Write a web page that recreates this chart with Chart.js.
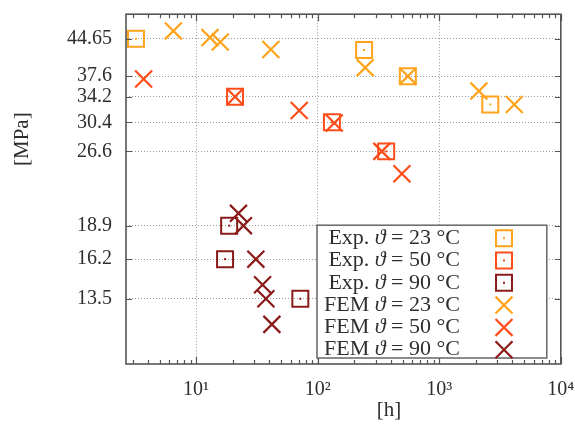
<!DOCTYPE html>
<html>
<head>
<meta charset="utf-8">
<script src="https://cdn.jsdelivr.net/npm/chart.js@4.4.1/dist/chart.umd.min.js"></script>
<style>
  html, body { margin: 0; padding: 0; background: #fff; }
</style>
</head>
<body>
<canvas id="chart" width="575" height="434"></canvas>
<script>
// time to failure [h] and stress [MPa]
const exp23Hours = [3.2, 241, 552, 2630];
const exp23Stress = [44.65, 42.4, 37.6, 33.0];
const exp50Hours = [20.9, 131, 366];
const exp50Stress = [34.2, 30.4, 26.6];
const exp90Hours = [18.7, 17.3, 72];
const exp90Stress = [18.9, 16.2, 13.5];

const fem23Hours = [6.5, 13.0, 15.8, 41.2, 246, 552, 2120, 4140];
const fem23Stress = [46.3, 44.9, 44.0, 42.5, 39.1, 37.6, 35.1, 33.0];
const fem50Hours = [3.7, 20.9, 70.5, 137, 337, 493];
const fem50Stress = [37.1, 34.2, 32.1, 30.3, 26.6, 24.0];
const fem90Hours = [22.3, 24.5, 31.0, 35.2, 37.5, 42.0];
const fem90Stress = [20.0, 18.9, 16.2, 14.4, 13.5, 12.0];

const seriesLabels = [
    "Exp. ϑ = 23 °C", "Exp. ϑ = 50 °C", "Exp. ϑ = 90 °C",
    "FEM ϑ = 23 °C", "FEM ϑ = 50 °C", "FEM ϑ = 90 °C"
];

const yTickValues = [13.5, 16.2, 18.9, 26.6, 30.4, 34.2, 37.6, 44.65];
const yTickLabels = ["13.5", "16.2", "18.9", "26.6", "30.4", "34.2", "37.6", "44.65"];
const xTickValues = [10, 100, 1000, 10000];
const xTickLabels = ["10¹", "10²", "10³", "10⁴"];

const ORANGE = "#ffa31a";
const RED = "#ff4d1a";
const DARK = "#8b1a1a";
const SERIF = "'Liberation Serif', 'DejaVu Serif', serif";
const TEXT = "#2e2e2e";

function toPoints(xs, ys) {
    return xs.map((x, i) => ({ x: x, y: ys[i] }));
}

function squareSet(label, xs, ys, color) {
    return {
        label: label,
        data: toPoints(xs, ys),
        pointStyle: "rect",
        pointRadius: 11.3,
        pointHoverRadius: 11.3,
        borderWidth: 2,
        borderColor: color,
        backgroundColor: "rgba(0,0,0,0)",
        centerDot: true
    };
}

function crossSet(label, xs, ys, color) {
    return {
        label: label,
        data: toPoints(xs, ys),
        pointStyle: "crossRot",
        pointRadius: 12,
        pointHoverRadius: 12,
        borderWidth: 2.2,
        borderColor: color,
        backgroundColor: color
    };
}

// frame, tick marks, axis titles and the boxed legend
const decor = {
    id: "decor",
    afterDatasetsDraw(chart) {
        const ctx = chart.ctx;
        // small dot in the middle of every square
        chart.data.datasets.forEach((ds, i) => {
            if (!ds.centerDot) return;
            ctx.fillStyle = ds.borderColor;
            chart.getDatasetMeta(i).data.forEach(el => {
                ctx.fillRect(el.x - 1, el.y - 1, 2, 2);
            });
        });
    },
    afterDraw(chart) {
        const ctx = chart.ctx;
        const a = chart.chartArea;
        const xs = chart.scales.x;
        const ys = chart.scales.y;

        ctx.save();
        ctx.strokeStyle = "#555";
        ctx.lineWidth = 1.2;
        ctx.beginPath();
        for (let d = 1; d <= 1000; d *= 10) {
            for (let k = 1; k <= 10; k++) {
                const v = k * d;
                if (v < xs.min || v > xs.max) continue;
                const px = Math.round(xs.getPixelForValue(v)) + 0.5;
                const len = (k === 1 || k === 10) ? 7 : 4;
                ctx.moveTo(px, a.bottom); ctx.lineTo(px, a.bottom - len);
                ctx.moveTo(px, a.top); ctx.lineTo(px, a.top + len);
            }
        }
        yTickValues.forEach(v => {
            const py = Math.round(ys.getPixelForValue(v)) + 0.5;
            ctx.moveTo(a.left, py); ctx.lineTo(a.left + 6, py);
            ctx.moveTo(a.right, py); ctx.lineTo(a.right - 6, py);
        });
        ctx.stroke();

        // legend box
        const box = { left: a.left + 191, top: a.top + 211, right: a.right - 14, bottom: a.bottom - 6 };
        ctx.fillStyle = "#fff";
        ctx.fillRect(box.left, box.top, box.right - box.left, box.bottom - box.top);
        ctx.strokeStyle = "#666";
        ctx.lineWidth = 1.5;
        ctx.strokeRect(box.left, box.top, box.right - box.left, box.bottom - box.top);

        const textRight = box.left + 143;
        const markX = box.left + 187;
        const rowH = 22.3;
        ctx.textBaseline = "middle";
        ctx.textAlign = "left";
        chart.data.datasets.forEach((ds, i) => {
            const y = box.top + 13 + i * rowH;
            const parts = ds.label.split("ϑ");
            const fontUp = "22px " + SERIF;
            const fontIt = "italic 22px " + SERIF;
            ctx.font = fontUp;
            const w0 = ctx.measureText(parts[0]).width;
            const w2 = ctx.measureText(parts[1]).width;
            ctx.font = fontIt;
            const w1 = ctx.measureText("ϑ").width;
            let x = textRight - (w0 + w1 + w2);
            ctx.fillStyle = TEXT;
            ctx.font = fontUp; ctx.fillText(parts[0], x, y); x += w0;
            ctx.font = fontIt; ctx.fillText("ϑ", x, y); x += w1;
            ctx.font = fontUp; ctx.fillText(parts[1], x, y);

            ctx.strokeStyle = ds.borderColor;
            ctx.fillStyle = "rgba(0,0,0,0)";
            ctx.lineWidth = ds.borderWidth;
            Chart.helpers.drawPoint(ctx, {
                pointStyle: ds.pointStyle, radius: ds.pointRadius, rotation: 0, borderWidth: ds.borderWidth
            }, markX, y);
            if (ds.centerDot) {
                ctx.fillStyle = ds.borderColor;
                ctx.fillRect(markX - 1, y - 1, 2, 2);
            }
        });

        // frame
        ctx.strokeStyle = "#555";
        ctx.lineWidth = 1.6;
        ctx.strokeRect(a.left, a.top, a.right - a.left, a.bottom - a.top);

        // axis titles
        ctx.fillStyle = TEXT;
        ctx.font = "21px " + SERIF;
        ctx.textAlign = "center";
        ctx.textBaseline = "middle";
        ctx.fillText("[h]", a.left + 263, a.bottom + 46);
        ctx.translate(22, a.top + 125);
        ctx.rotate(-Math.PI / 2);
        ctx.fillText("[MPa]", 0, 0);
        ctx.restore();
    }
};

new Chart(document.getElementById("chart"), {
    type: "scatter",
    data: {
        datasets: [
            squareSet(seriesLabels[0], exp23Hours, exp23Stress, ORANGE),
            squareSet(seriesLabels[1], exp50Hours, exp50Stress, RED),
            squareSet(seriesLabels[2], exp90Hours, exp90Stress, DARK),
            crossSet(seriesLabels[3], fem23Hours, fem23Stress, ORANGE),
            crossSet(seriesLabels[4], fem50Hours, fem50Stress, RED),
            crossSet(seriesLabels[5], fem90Hours, fem90Stress, DARK)
        ]
    },
    options: {
        responsive: false,
        animation: false,
        layout: { padding: { top: 13, right: 14, left: 0, bottom: 0 } },
        plugins: {
            legend: { display: false },
            tooltip: { enabled: false }
        },
        scales: {
            x: {
                type: "logarithmic",
                min: 2.65,
                max: 10000,
                afterBuildTicks: s => { s.ticks = xTickValues.map(v => ({ value: v })); },
                afterFit: s => { s.height = 70; s.paddingLeft = 0; s.paddingRight = 0; },
                grid: { color: "#9a9a9a", lineWidth: 1, drawTicks: false },
                border: { display: false, dash: [1, 2] },
                ticks: {
                    autoSkip: false,
                    maxRotation: 0,
                    padding: 14,
                    color: TEXT,
                    font: { family: SERIF, size: 20 },
                    callback: (v, i) => xTickLabels[i]
                }
            },
            y: {
                type: "logarithmic",
                min: 10,
                max: 50,
                afterBuildTicks: s => { s.ticks = yTickValues.map(v => ({ value: v })); },
                afterFit: s => { s.width = 126; s.paddingTop = 0; s.paddingBottom = 0; },
                grid: { color: "#9a9a9a", lineWidth: 1, drawTicks: false },
                border: { display: false, dash: [1, 2] },
                ticks: {
                    padding: 14,
                    color: TEXT,
                    font: { family: SERIF, size: 20 },
                    callback: (v, i) => yTickLabels[i]
                }
            }
        }
    },
    plugins: [decor]
});
</script>
</body>
</html>
